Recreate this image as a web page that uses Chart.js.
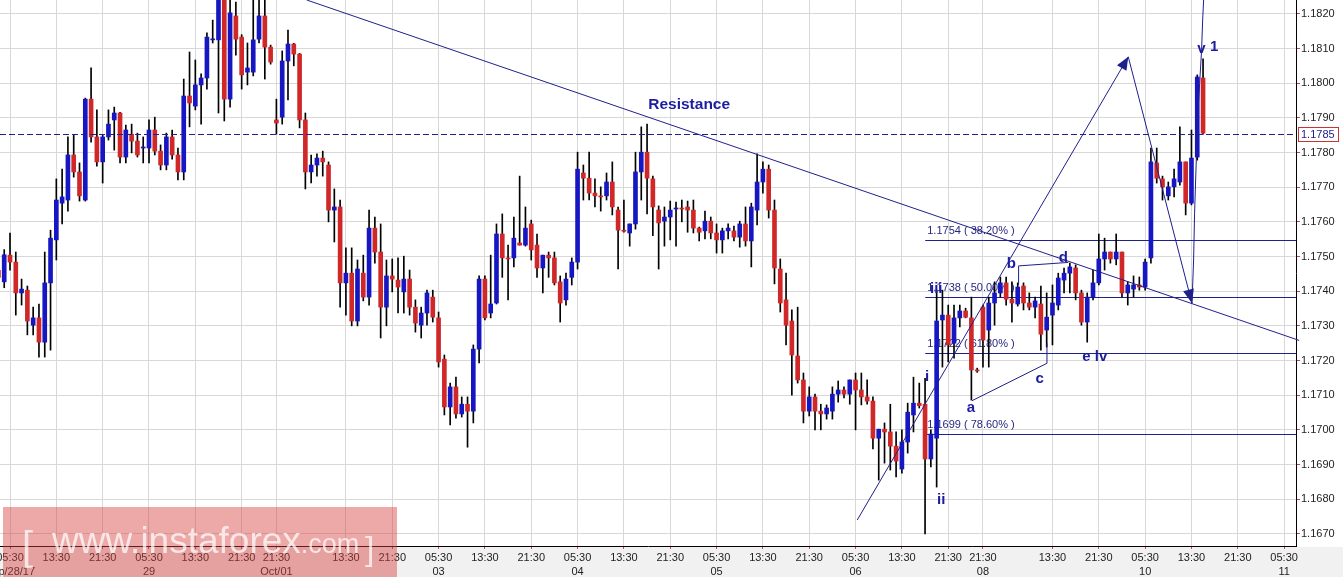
<!DOCTYPE html>
<html>
<head>
<meta charset="utf-8">
<title>EUR/USD H1</title>
<script src="https://cdn.jsdelivr.net/npm/chart.js@4.4.1/dist/chart.umd.min.js"></script>
<style>
  html, body { margin: 0; padding: 0; background: #fff; }
  canvas { display: block; }
</style>
</head>
<body>
<canvas id="chart" width="1343" height="577"></canvas>
<script>
// ===============================
// Candle data (H1), one value per candle, index = position on the x axis
// ===============================
const opens = [
  1.17460,1.17427,1.17504,1.17484,1.17395,1.17403,1.17302,1.17323,1.17253,1.17424,
  1.17548,1.17654,1.17663,1.17793,1.17744,1.17663,1.17954,1.17845,1.17773,1.17845,
  1.17894,1.17914,1.17787,1.17853,1.17833,1.17813,1.17813,1.17865,1.17804,1.17764,
  1.17845,1.17793,1.17744,1.17963,1.17934,1.17995,1.18015,1.18125,1.18125,1.18250,
  1.17954,1.18194,1.18133,1.18032,1.18032,1.18127,1.18194,1.18104,1.17894,1.17902,
  1.18064,1.18113,1.18084,1.17894,1.17744,1.17764,1.17784,1.17764,1.17634,1.17643,
  1.17424,1.17452,1.17314,1.17452,1.17383,1.17582,1.17513,1.17354,1.17444,1.17432,
  1.17398,1.17435,1.17354,1.17302,1.17337,1.17383,1.17323,1.17204,1.17066,1.17124,
  1.17046,1.17074,1.17054,1.17233,1.17435,1.17337,1.17366,1.17565,1.17496,1.17496,
  1.17539,1.17533,1.17594,1.17533,1.17467,1.17504,1.17496,1.17427,1.17375,1.17440,
  1.17484,1.17741,1.17726,1.17683,1.17674,1.17675,1.17715,1.17634,1.17576,1.17568,
  1.17594,1.17744,1.17801,1.17724,1.17634,1.17602,1.17614,1.17637,1.17640,1.17643,
  1.17634,1.17582,1.17574,1.17602,1.17568,1.17548,1.17574,1.17574,1.17556,1.17594,
  1.17545,1.17634,1.17715,1.17752,1.17634,1.17464,1.17375,1.17314,1.17213,1.17144,
  1.17054,1.17095,1.17054,1.17046,1.17054,1.17103,1.17115,1.17103,1.17144,1.17115,
  1.17095,1.17083,1.16976,1.17002,1.16994,1.16953,1.16887,1.16965,1.17043,1.17077,
  1.17074,1.16916,1.16976,1.17317,1.17331,1.17250,1.17323,1.17343,1.17323,1.17173,
  1.17354,1.17288,1.17366,1.17395,1.17424,1.17377,1.17363,1.17415,1.17366,1.17354,
  1.17363,1.17288,1.17331,1.17360,1.17432,1.17452,1.17467,1.17395,1.17311,1.17383,
  1.17424,1.17493,1.17513,1.17493,1.17513,1.17395,1.17406,1.17418,1.17412,1.17496,
  1.17770,1.17724,1.17675,1.17701,1.17715,1.17773,1.17654,1.17787,1.18015
];
const highs = [
  1.17500,1.17520,1.17568,1.17513,1.17435,1.17415,1.17354,1.17363,1.17513,1.17576,
  1.17724,1.17752,1.17845,1.17851,1.17770,1.17957,1.18044,1.17923,1.17850,1.17923,
  1.17931,1.17916,1.17879,1.17882,1.17856,1.17845,1.17894,1.17902,1.17822,1.17856,
  1.17865,1.17813,1.18012,1.18090,1.18067,1.18027,1.18145,1.18182,1.18280,1.18280,
  1.18260,1.18234,1.18140,1.18116,1.18250,1.18250,1.18250,1.18110,1.17954,1.18093,
  1.18153,1.18115,1.18086,1.17914,1.17793,1.17796,1.17804,1.17773,1.17695,1.17663,
  1.17525,1.17525,1.17490,1.17504,1.17634,1.17614,1.17594,1.17490,1.17493,1.17496,
  1.17501,1.17461,1.17375,1.17354,1.17403,1.17403,1.17340,1.17216,1.17135,1.17152,
  1.17095,1.17095,1.17245,1.17444,1.17444,1.17504,1.17594,1.17623,1.17533,1.17614,
  1.17732,1.17643,1.17605,1.17565,1.17504,1.17513,1.17513,1.17444,1.17452,1.17496,
  1.17801,1.17764,1.17801,1.17724,1.17701,1.17741,1.17773,1.17643,1.17663,1.17594,
  1.17801,1.17874,1.17882,1.17732,1.17646,1.17643,1.17660,1.17657,1.17663,1.17660,
  1.17663,1.17585,1.17631,1.17614,1.17594,1.17582,1.17594,1.17588,1.17602,1.17643,
  1.17654,1.17796,1.17773,1.17764,1.17663,1.17493,1.17452,1.17346,1.17354,1.17164,
  1.17124,1.17103,1.17074,1.17072,1.17124,1.17141,1.17124,1.17144,1.17164,1.17164,
  1.17144,1.17095,1.17002,1.17020,1.17074,1.16994,1.17000,1.17077,1.17152,1.17135,
  1.17149,1.17000,1.17403,1.17403,1.17360,1.17360,1.17360,1.17351,1.17383,1.17178,
  1.17360,1.17383,1.17427,1.17441,1.17441,1.17427,1.17424,1.17424,1.17395,1.17383,
  1.17415,1.17395,1.17418,1.17452,1.17467,1.17481,1.17476,1.17403,1.17395,1.17461,
  1.17565,1.17553,1.17513,1.17565,1.17513,1.17427,1.17444,1.17441,1.17493,1.17813,
  1.17813,1.17732,1.17715,1.17752,1.17874,1.17773,1.17865,1.18024,1.18070
];
const lows = [
  1.17400,1.17410,1.17461,1.17331,1.17360,1.17274,1.17274,1.17210,1.17210,1.17230,
  1.17490,1.17594,1.17631,1.17729,1.17660,1.17660,1.17830,1.17761,1.17712,1.17836,
  1.17807,1.17770,1.17770,1.17799,1.17787,1.17770,1.17770,1.17793,1.17750,1.17750,
  1.17781,1.17721,1.17721,1.17874,1.17923,1.17882,1.17983,1.18116,1.17914,1.17891,
  1.17931,1.18081,1.17983,1.17995,1.18021,1.18116,1.18012,1.18055,1.17853,1.17882,
  1.17952,1.18050,1.17871,1.17695,1.17712,1.17732,1.17732,1.17600,1.17542,1.17354,
  1.17331,1.17300,1.17300,1.17372,1.17360,1.17481,1.17265,1.17300,1.17398,1.17337,
  1.17337,1.17331,1.17282,1.17265,1.17302,1.17311,1.17181,1.17043,1.17014,1.17034,
  1.17037,1.16950,1.17020,1.17193,1.17317,1.17323,1.17363,1.17440,1.17375,1.17470,
  1.17533,1.17530,1.17490,1.17440,1.17395,1.17440,1.17418,1.17311,1.17360,1.17418,
  1.17464,1.17663,1.17663,1.17643,1.17631,1.17663,1.17620,1.17464,1.17570,1.17530,
  1.17579,1.17663,1.17623,1.17560,1.17464,1.17530,1.17548,1.17530,1.17600,1.17570,
  1.17568,1.17545,1.17551,1.17551,1.17510,1.17510,1.17551,1.17545,1.17527,1.17530,
  1.17470,1.17591,1.17683,1.17611,1.17421,1.17340,1.17245,1.17100,1.17135,1.17020,
  1.17040,1.17000,1.17000,1.17031,1.17031,1.17080,1.17092,1.17074,1.17000,1.17072,
  1.17074,1.16945,1.16855,1.16904,1.16884,1.16864,1.16875,1.16933,1.16994,1.17063,
  1.16700,1.16893,1.16835,1.17181,1.17196,1.17207,1.17297,1.17323,1.17086,1.17166,
  1.17181,1.17181,1.17302,1.17383,1.17360,1.17311,1.17357,1.17346,1.17346,1.17323,
  1.17230,1.17239,1.17245,1.17346,1.17395,1.17395,1.17375,1.17302,1.17253,1.17375,
  1.17418,1.17461,1.17481,1.17476,1.17383,1.17360,1.17383,1.17403,1.17403,1.17481,
  1.17712,1.17663,1.17663,1.17672,1.17706,1.17620,1.17649,1.17778,1.17853
];
const closes = [
  1.17440,1.17505,1.17484,1.17395,1.17406,1.17314,1.17323,1.17253,1.17424,1.17553,
  1.17663,1.17672,1.17793,1.17744,1.17675,1.17954,1.17845,1.17773,1.17845,1.17882,
  1.17914,1.17787,1.17865,1.17833,1.17793,1.17816,1.17865,1.17804,1.17764,1.17845,
  1.17793,1.17744,1.17963,1.17943,1.17995,1.18015,1.18133,1.18127,1.18260,1.17954,
  1.18203,1.18127,1.18024,1.18044,1.18125,1.18194,1.18104,1.18061,1.17885,1.18064,
  1.18113,1.18084,1.17894,1.17744,1.17764,1.17784,1.17773,1.17634,1.17643,1.17424,
  1.17452,1.17314,1.17464,1.17383,1.17582,1.17513,1.17354,1.17444,1.17435,1.17412,
  1.17435,1.17354,1.17308,1.17337,1.17395,1.17325,1.17196,1.17066,1.17124,1.17046,
  1.17074,1.17054,1.17233,1.17435,1.17323,1.17363,1.17565,1.17496,1.17493,1.17553,
  1.17533,1.17582,1.17519,1.17467,1.17504,1.17496,1.17424,1.17366,1.17435,1.17484,
  1.17752,1.17726,1.17683,1.17675,1.17672,1.17715,1.17643,1.17576,1.17573,1.17594,
  1.17744,1.17801,1.17726,1.17643,1.17597,1.17614,1.17634,1.17640,1.17637,1.17634,
  1.17582,1.17570,1.17602,1.17568,1.17548,1.17574,1.17582,1.17556,1.17594,1.17545,
  1.17643,1.17715,1.17752,1.17634,1.17467,1.17366,1.17302,1.17216,1.17144,1.17054,
  1.17095,1.17054,1.17046,1.17063,1.17103,1.17115,1.17103,1.17144,1.17115,1.17095,
  1.17083,1.16976,1.17002,1.16994,1.16953,1.16910,1.16965,1.17051,1.17077,1.17070,
  1.16916,1.16988,1.17314,1.17331,1.17245,1.17323,1.17343,1.17325,1.17173,1.17170,
  1.17259,1.17366,1.17395,1.17424,1.17377,1.17366,1.17412,1.17366,1.17354,1.17372,
  1.17276,1.17325,1.17366,1.17438,1.17452,1.17470,1.17395,1.17311,1.17383,1.17424,
  1.17493,1.17513,1.17493,1.17513,1.17395,1.17418,1.17418,1.17412,1.17484,1.17773,
  1.17726,1.17701,1.17701,1.17724,1.17773,1.17654,1.17784,1.18018,1.17856
];

// Tick marks of the time axis (candle index) and their labels
const xTickIdx  = [2,10,18,26,34,42,48,60,68,76,84,92,100,108,116,124,132,140,148,156,164,170,182,190,198,206,214,222];
const xTickTime = ['05:30','13:30','21:30','05:30','13:30','21:30','21:30','13:30','21:30','05:30','13:30','21:30','05:30','13:30','21:30','05:30','13:30','21:30','05:30','13:30','21:30','21:30','13:30','21:30','05:30','13:30','21:30','05:30'];
const xTickDate = ['Sep/28/17','','','29','','','Oct/01','','','03','','','04','','','05','','','06','','','08','','','10','','','11'];

// Price axis ticks
const yTickVals   = [1.167,1.168,1.169,1.170,1.171,1.172,1.173,1.174,1.175,1.176,1.177,1.178,1.179,1.180,1.181,1.182];
const yTickLabels = yTickVals.map(v => v.toFixed(4));

// Last price
const lastPrice = 1.17853;
const lastPriceLabel = '1.1785';

// Fibonacci retracement levels
const fibLevels = [1.17547, 1.17383, 1.17222, 1.16988];
const fibLabels = ['1.1754 ( 38.20% )', '1.1738 ( 50.00% )', '1.1722 ( 61.80% )', '1.1699 ( 78.60% )'];
const fibStart = 160.03;

// Drawn lines (candle index, price)
const resistanceLine = [[53.24, 1.18240], [224.6, 1.17258]];
const waveUp   = [[148.29, 1.16740], [195.09, 1.18076]];
const waveDown = [[195.09, 1.18076], [206.09, 1.17365]];
const waveV = [[206.09,1.17365],[206.37,1.17490],[206.54,1.17625],[206.83,1.17778],[207.06,1.17903],
               [207.41,1.17999],[207.75,1.18096],[207.93,1.18182],[208.1,1.18240]];
const triLower = [[168.10,1.17084],[181.05,1.17192],[181.05,1.17250]];
const triUpper = [[176.15,1.17418],[176.15,1.17473],[184.73,1.17483]];

// Text labels (text, candle index, price)
const waveLabels = [
  ['i', 160.33, 1.17152], ['ii', 162.8, 1.16797], ['iii', 161.93, 1.17406],
  ['a', 167.92, 1.17063], ['b', 174.9, 1.17478], ['c', 179.8, 1.17147],
  ['d', 183.87, 1.17496], ['e lv', 189.3, 1.17210], ['v', 207.7, 1.18099], ['1', 209.94, 1.18104]
];
const resistanceLabel = ['Resistance', 119.27, 1.17937];

// ===============================
// Styles
// ===============================
const BLUE = '#1616c2';
const RED = '#d02828';
const NAVY = '#20208c';
const LABEL = '#1c1ca0';
const FONT = '"Liberation Sans", Arial, sans-serif';

const bodyColors = opens.map((o, i) => closes[i] > o ? BLUE : (closes[i] < o ? RED : '#000'));

// ===============================
// Custom drawing
// ===============================
function path(ctx, pts, X, Y) {
  ctx.beginPath();
  pts.forEach(([i, p], k) => k ? ctx.lineTo(X(i), Y(p)) : ctx.moveTo(X(i), Y(p)));
  ctx.stroke();
}
function arrow(ctx, from, to, len, half) {
  const a = Math.atan2(to[1] - from[1], to[0] - from[0]);
  const bx = to[0] - len * Math.cos(a), by = to[1] - len * Math.sin(a);
  ctx.beginPath();
  ctx.moveTo(to[0], to[1]);
  ctx.lineTo(bx + half * Math.sin(a), by - half * Math.cos(a));
  ctx.lineTo(bx - half * Math.sin(a), by + half * Math.cos(a));
  ctx.closePath();
  ctx.fill();
}
// no automatic padding around the scales: the plot starts at the canvas edge
function noPad(s) {
  s.paddingLeft = 0; s.paddingRight = 0; s.paddingTop = 0; s.paddingBottom = 0;
}

const drawings = {
  id: 'drawings',
  beforeDraw(chart) {
    const c = chart.ctx;
    c.save();
    c.fillStyle = '#fff';
    c.fillRect(0, 0, chart.width, chart.height);
    c.fillStyle = '#f1f1f1';
    c.fillRect(0, chart.chartArea.bottom + 1, chart.width, chart.height - chart.chartArea.bottom);
    c.restore();
  },
  beforeDatasetsDraw(chart) {
    const c = chart.ctx, X = v => chart.scales.x.getPixelForValue(v), Y = v => chart.scales.y.getPixelForValue(v);
    c.save();
    c.strokeStyle = NAVY;
    c.lineWidth = 1;
    c.fillStyle = '#262680';
    c.font = '11px ' + FONT;
    c.textBaseline = 'alphabetic';
    fibLevels.forEach((lv, k) => {
      const y = Math.round(Y(lv)) + 0.5;
      c.beginPath();
      c.moveTo(X(fibStart), y);
      c.lineTo(chart.chartArea.right, y);
      c.stroke();
      c.fillText(fibLabels[k], X(fibStart) + 2, y - 6.5);
    });
    c.restore();
  },
  afterDatasetsDraw(chart) {
    const c = chart.ctx, X = v => chart.scales.x.getPixelForValue(v), Y = v => chart.scales.y.getPixelForValue(v);
    c.save();
    c.strokeStyle = NAVY;
    c.fillStyle = NAVY;
    c.lineWidth = 1;

    // last price dashed line
    const yl = Math.round(Y(lastPrice)) + 0.5;
    c.setLineDash([6, 3]);
    c.beginPath();
    c.moveTo(chart.chartArea.left, yl);
    c.lineTo(chart.chartArea.right, yl);
    c.stroke();
    c.setLineDash([]);

    path(c, resistanceLine, X, Y);
    path(c, waveUp, X, Y);
    path(c, waveDown, X, Y);
    path(c, waveV, X, Y);
    path(c, triLower, X, Y);
    path(c, triUpper, X, Y);

    const px = p => [X(p[0]), Y(p[1])];
    arrow(c, px(waveUp[0]), px(waveUp[1]), 13, 5.5);
    arrow(c, px(waveDown[0]), px(waveDown[1]), 14, 5.5);

    c.fillStyle = LABEL;
    c.textAlign = 'center';
    c.textBaseline = 'middle';
    c.font = 'bold 15px ' + FONT;
    waveLabels.forEach(([t, i, p]) => c.fillText(t, X(i), Y(p)));
    c.font = 'bold 15.5px ' + FONT;
    c.fillText(resistanceLabel[0], X(resistanceLabel[1]), Y(resistanceLabel[2]));
    c.restore();
  },
  afterDraw(chart) {
    const c = chart.ctx, Y = v => chart.scales.y.getPixelForValue(v);
    c.save();
    // last price box on the price axis
    const yl = Math.round(Y(lastPrice));
    c.fillStyle = '#fff';
    c.fillRect(1298, yl - 7, 41, 15);
    c.strokeStyle = '#c83434';
    c.lineWidth = 1;
    c.strokeRect(1298.5, yl - 6.5, 40, 14);
    c.fillStyle = '#1c1c8c';
    c.font = '11px ' + FONT;
    c.textBaseline = 'middle';
    c.fillText(lastPriceLabel, 1301, yl + 0.5);

    // watermark
    c.fillStyle = 'rgba(214, 62, 62, 0.45)';
    c.fillRect(3, 507, 394, 70);
    c.fillStyle = 'rgba(255, 255, 255, 0.72)';
    c.textBaseline = 'alphabetic';
    c.font = '40px ' + FONT;
    c.fillText('[', 22, 560);
    c.font = '37px ' + FONT;
    c.fillText('www.instaforex', 52, 553);
    const w = c.measureText('www.instaforex').width;
    c.font = '27px ' + FONT;
    c.fillText('.com', 52 + w, 553);
    c.font = '34px ' + FONT;
    c.fillText(']', 365, 560);
    c.restore();
  }
};

// ===============================
// Chart
// ===============================
new Chart(document.getElementById('chart'), {
  type: 'bar',
  data: {
    datasets: [
      {
        label: 'wicks',
        data: opens.map((o, i) => ({ x: i, y: [lows[i], highs[i]] })),
        backgroundColor: '#000',
        barThickness: 1,
        grouped: false,
        order: 2
      },
      {
        label: 'bodies',
        data: opens.map((o, i) => ({ x: i, y: [o, closes[i]] })),
        backgroundColor: bodyColors,
        barThickness: 4,
        minBarLength: 1,
        grouped: false,
        order: 1
      }
    ]
  },
  options: {
    responsive: false,
    animation: false,
    layout: { padding: 0, autoPadding: false },
    plugins: { legend: { display: false }, tooltip: { enabled: false } },
    scales: {
      x: {
        type: 'linear',
        min: 0.273,
        max: 224.05,
        offset: false,
        afterBuildTicks: s => { s.ticks = xTickIdx.map(v => ({ value: v })); },
        afterFit: s => { s.height = 31; noPad(s); },
        ticks: {
          autoSkip: false, maxRotation: 0, minRotation: 0, padding: 1,
          color: '#222', font: { family: FONT, size: 11, lineHeight: 1.36 },
          callback: (v, k) => xTickDate[k] ? [xTickTime[k], xTickDate[k]] : xTickTime[k]
        },
        grid: { offset: false, color: '#d8d8d8', lineWidth: 1, tickColor: '#c84848', tickLength: 3 },
        border: { color: '#000', width: 1 }
      },
      y: {
        type: 'linear',
        position: 'right',
        min: 1.16665,
        max: 1.18240,
        afterBuildTicks: s => { s.ticks = yTickVals.map(v => ({ value: v })); },
        afterFit: s => { s.width = 47; noPad(s); },
        ticks: {
          padding: 1, color: '#222', font: { family: FONT, size: 11 },
          callback: (v, k) => yTickLabels[k]
        },
        grid: { color: '#d8d8d8', lineWidth: 1, tickColor: '#c84848', tickLength: 4 },
        border: { color: '#000', width: 1 }
      }
    }
  },
  plugins: [drawings]
});
</script>
</body>
</html>
